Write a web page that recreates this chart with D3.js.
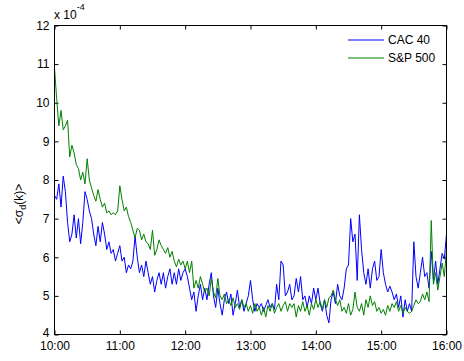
<!DOCTYPE html>
<html>
<head>
<meta charset="utf-8">
<script src="https://cdn.jsdelivr.net/npm/d3@7"></script>
<style>
  html, body { margin: 0; padding: 0; background: #fff; }
  svg { display: block; font-family: "Liberation Sans", Arial, Helvetica, sans-serif; }
</style>
</head>
<body>
<svg id="chart" width="464" height="361"></svg>
<script>
// ---- Data (values in units of 1e-4), one sample every 2 minutes from 10:00 to 16:00 ----
const seriesNames = ["CAC 40", "S&P 500"];
const sampleStepMinutes = 2;
const tickMinutes = [0, 60, 120, 180, 240, 300, 360];
const timeLabels = ["10:00", "11:00", "12:00", "13:00", "14:00", "15:00", "16:00"];
const yTicks = [4, 5, 6, 7, 8, 9, 10, 11, 12];

const cac40 = [
  7.6, 7.5, 7.9, 7.3, 8.1,
  7.7, 6.9, 6.4, 6.6, 7.1,
  6.5, 7.0, 6.35, 6.9, 7.7,
  7.5, 7.2, 7.0, 6.6, 6.3,
  6.8, 6.4, 6.9, 6.6, 6.2,
  6.4, 6.1, 6.2, 5.9, 6.1,
  6.3, 5.9, 6.0, 5.6, 5.8,
  5.7, 5.9, 6.55, 6.0, 5.6,
  5.8, 5.5, 5.9, 5.6, 5.3,
  5.5, 5.1, 5.4, 5.6, 5.3,
  5.6, 5.2, 5.5, 5.7, 5.3,
  5.6, 5.3, 5.7, 5.4, 5.6,
  5.7, 5.5, 5.2, 4.9, 5.1,
  4.6, 5.0, 5.3, 4.9, 5.2,
  4.9, 5.3, 5.6, 5.0, 4.7,
  5.2, 4.8, 4.5, 4.9, 5.1,
  4.8, 5.05, 4.5, 4.8, 5.15,
  4.7, 4.9, 4.6, 4.8, 5.0,
  5.4, 4.9, 4.6, 4.8, 4.7,
  4.8, 4.6, 4.75, 4.9, 4.7,
  4.8, 4.65, 5.3, 4.9, 5.9,
  5.8, 5.0, 5.1, 5.3, 4.9,
  5.0, 5.45, 5.1, 5.5, 4.9,
  5.0, 4.7, 5.0, 4.8, 5.2,
  4.9, 5.2, 4.8, 4.6, 4.9,
  4.5, 4.3, 4.9, 5.1, 4.8,
  5.3, 5.0, 4.9, 5.2, 5.7,
  5.8, 7.0, 6.4, 6.6, 5.4,
  7.1, 6.2, 5.6, 5.3, 5.7,
  5.2, 5.7, 5.9, 5.4, 5.5,
  6.2, 5.6, 5.3, 5.1, 5.25,
  5.1, 4.9, 5.05, 4.7, 5.0,
  4.45, 4.9, 4.6, 4.8, 4.6,
  6.4, 5.5, 5.2, 5.6, 6.0,
  5.5, 5.6, 5.2, 6.15, 5.4,
  5.9, 5.3, 5.7, 6.1, 5.95,
  6.6
];

const sp500 = [
  10.9, 10.1, 9.4, 9.8, 9.3,
  9.4, 9.55, 8.6, 8.9, 8.7,
  8.4, 8.3, 8.0, 8.2, 7.9,
  8.55, 8.0, 7.8, 7.6, 7.45,
  7.75, 7.5, 7.3, 7.4, 7.15,
  7.2, 7.1, 7.15, 7.1, 7.2,
  7.85, 7.5, 7.2, 7.3, 7.05,
  6.9, 6.7, 6.5, 6.75, 6.7,
  6.45, 6.6, 6.4, 6.35, 6.2,
  6.7, 6.05, 6.2, 6.45, 6.3,
  6.2, 6.1, 6.25, 6.0, 6.15,
  5.9, 5.75, 5.95, 5.8, 5.9,
  5.7, 5.9, 5.6, 5.9, 5.2,
  5.4, 5.2, 5.5, 5.3, 5.1,
  5.2, 5.0, 5.45, 5.1, 4.95,
  5.45, 5.0, 4.9, 5.05, 4.8,
  4.9, 4.75, 4.95, 4.7, 4.8,
  4.65, 4.9, 4.7, 4.8, 4.6,
  4.75, 4.55, 4.8, 4.6, 4.7,
  4.5, 4.7, 4.45, 4.75, 4.6,
  4.8, 4.55, 4.7, 4.8, 4.6,
  4.75, 4.85, 4.6, 4.8, 4.7,
  4.8, 4.45, 4.75, 4.6, 4.85,
  4.6, 4.75, 4.5, 4.8, 4.65,
  4.9, 4.7, 4.85, 4.65, 4.9,
  4.7, 4.95, 5.0, 5.15, 4.9,
  4.75, 4.9, 4.6, 4.7, 4.55,
  4.8, 4.5, 4.65, 5.1, 4.7,
  4.6, 4.8, 4.5, 4.9, 4.7,
  5.0, 4.75, 4.85, 4.6, 4.7,
  4.55, 4.65, 4.5, 4.75, 4.6,
  4.8, 4.7, 4.85, 4.6, 4.75,
  4.55, 4.7, 4.6, 4.55, 4.6,
  4.75, 4.9, 4.8, 4.85, 5.05,
  4.9, 5.1, 4.85, 6.95, 5.3,
  5.6, 5.15, 5.5, 5.85, 5.5,
  6.2
];

const seriesColors = ["#0000ff", "#008000"];

// ---- Layout ----
const svg = d3.select("#chart");
const L = 54.5, R = 446.5, T = 25.5, B = 334.5;

const x = d3.scaleLinear().domain([0, 360]).range([L, R]);
const y = d3.scaleLinear().domain([4, 12]).range([B, T]);

const fontSize = 12;

// axes
const gx = svg.append("g").attr("transform", `translate(0,${B})`)
  .call(d3.axisBottom(x).tickValues(tickMinutes)
    .tickFormat((d, i) => timeLabels[i]).tickSizeInner(-4).tickSizeOuter(0).tickPadding(7));
const gxTop = svg.append("g").attr("transform", `translate(0,${T})`)
  .call(d3.axisTop(x).tickValues(tickMinutes).tickFormat("").tickSizeInner(-4).tickSizeOuter(0));
const gy = svg.append("g").attr("transform", `translate(${L},0)`)
  .call(d3.axisLeft(y).tickValues(yTicks).tickFormat(d3.format("d"))
    .tickSizeInner(-4).tickSizeOuter(0).tickPadding(5));
const gyR = svg.append("g").attr("transform", `translate(${R},0)`)
  .call(d3.axisRight(y).tickValues(yTicks).tickFormat("").tickSizeInner(-4).tickSizeOuter(0));

[gx, gxTop, gy, gyR].forEach(g => {
  g.select(".domain").remove();
  g.selectAll(".tick line").attr("stroke", "#000");
  g.selectAll("text").attr("fill", "#000").attr("font-size", fontSize)
    .attr("font-family", "'Liberation Sans', Arial, sans-serif");
});
// lowest y label sits just above the corner, as in the reference
gy.selectAll(".tick text").filter(d => d === 4).attr("dy", "0.2em");

// series lines
const line = d3.line()
  .x((d, i) => x(i * sampleStepMinutes))
  .y(d => y(d));

[cac40, sp500].forEach((data, k) => {
  svg.append("path")
    .datum(data)
    .attr("fill", "none")
    .attr("stroke", seriesColors[k])
    .attr("stroke-width", 1)
    .attr("stroke-linejoin", "round")
    .attr("d", line);
});

// frame
svg.append("rect")
  .attr("x", L).attr("y", T)
  .attr("width", R - L).attr("height", B - T)
  .attr("fill", "none").attr("stroke", "#000").attr("stroke-width", 1);

// exponent label
const expText = svg.append("text")
  .attr("x", 54).attr("y", 19)
  .attr("font-size", fontSize).attr("fill", "#000")
  .text("x 10");
expText.append("tspan")
  .attr("font-size", 9).attr("dy", -9).text("-4");

// y label
const yl = svg.append("text")
  .attr("transform", "translate(23,204) rotate(-90)")
  .attr("text-anchor", "middle")
  .attr("font-size", fontSize).attr("fill", "#000");
yl.append("tspan").text("<σ");
yl.append("tspan").attr("font-size", 9).attr("dy", 3).text("d");
yl.append("tspan").attr("dy", -3).text("(k)>");

// legend
seriesNames.forEach((name, k) => {
  const ly = 40 + k * 18;
  svg.append("line")
    .attr("x1", 348).attr("x2", 384).attr("y1", ly).attr("y2", ly)
    .attr("stroke", seriesColors[k]).attr("stroke-width", 1);
  svg.append("text")
    .attr("x", 388).attr("y", ly).attr("dy", "0.35em")
    .attr("font-size", fontSize).attr("fill", "#000")
    .text(name);
});
</script>
</body>
</html>
